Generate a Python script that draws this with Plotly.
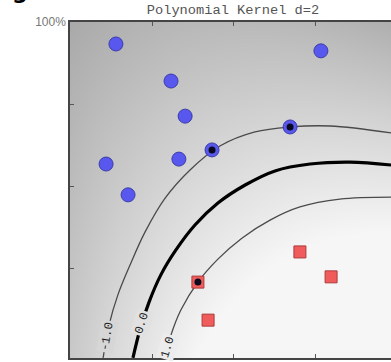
import numpy as np
import plotly.graph_objects as go

# ---- data (data units: 0..1 on both axes) ----
blue_x = [0.140, 0.765, 0.308, 0.351, 0.110, 0.332, 0.177]
blue_y = [0.933, 0.912, 0.820, 0.713, 0.567, 0.582, 0.473]
blue_sv_x = [0.433, 0.671, 0.110]
blue_sv_y = [0.610, 0.680, 0.030]

red_x = [0.701, 0.796, 0.421]
red_y = [0.299, 0.223, 0.091]
red_sv_x = [0.390]
red_sv_y = [0.207]

# traced decision-function level lines (-1, 0, +1)
lvl_m1_x = [0.101, 0.119, 0.146, 0.183, 0.229, 0.290, 0.366, 0.457, 0.564, 0.671, 0.793, 0.979]
lvl_m1_y = [-0.024, 0.076, 0.168, 0.259, 0.360, 0.463, 0.549, 0.622, 0.665, 0.680, 0.683, 0.662]
lvl_0_x = [0.192, 0.213, 0.241, 0.277, 0.323, 0.381, 0.451, 0.534, 0.625, 0.732, 0.854, 0.979]
lvl_0_y = [-0.024, 0.061, 0.146, 0.229, 0.305, 0.381, 0.448, 0.503, 0.546, 0.567, 0.573, 0.564]
lvl_p1_x = [0.290, 0.308, 0.338, 0.390, 0.451, 0.524, 0.610, 0.701, 0.823, 0.979]
lvl_p1_y = [-0.024, 0.046, 0.122, 0.207, 0.277, 0.341, 0.396, 0.436, 0.460, 0.466]

level_labels = ["-1.0", "0.0", "1.0"]
label_x = [0.113, 0.220, 0.299]
label_y = [0.040, 0.082, 0.009]
label_angle = [-80, -73, -74]

x_ticks = [0.25, 0.5, 0.75]
y_ticks = [0.25, 0.5, 0.75, 1.0]
y_ticktext = ["", "", "", "100%"]

# ---- smooth degree-2 polynomial surface (background shading) fitted to the level lines ----
px = np.array(lvl_m1_x + lvl_0_x + lvl_p1_x)
py = np.array(lvl_m1_y + lvl_0_y + lvl_p1_y)
pz = np.array([-1.0] * len(lvl_m1_x) + [0.0] * len(lvl_0_x) + [1.0] * len(lvl_p1_x))
A = np.column_stack([px**2, py**2, px * py, px, py, np.ones_like(px)])
coef, *_ = np.linalg.lstsq(A, pz, rcond=None)


def surf(x, y):
    return (coef[0] * x**2 + coef[1] * y**2 + coef[2] * x * y
            + coef[3] * x + coef[4] * y + coef[5])


ZMIN, ZMAX = -6.0, 2.0
G_LO, G_HI = 160, 246


def gray_at(z):
    t = min(max((z - ZMIN) / (ZMAX - ZMIN), 0.0), 1.0)
    g = int(round(G_LO + t * (G_HI - G_LO)))
    return f"rgb({g},{g},{g})"


gx = np.linspace(0, 0.9787, 160)
gy = np.linspace(-0.0244, 1.0, 170)
GX, GY = np.meshgrid(gx, gy)
Z = surf(GX, GY)

fig = go.Figure()
fig.add_trace(go.Heatmap(x=gx, y=gy, z=Z, zmin=ZMIN, zmax=ZMAX, zsmooth="best",
                         colorscale=[[0, gray_at(ZMIN)], [1, gray_at(ZMAX)]],
                         showscale=False, hoverinfo="skip"))
for lx, ly, w, c in [(lvl_m1_x, lvl_m1_y, 1.3, "#4a4a4a"),
                     (lvl_p1_x, lvl_p1_y, 1.3, "#4a4a4a"),
                     (lvl_0_x, lvl_0_y, 3.2, "black")]:
    fig.add_trace(go.Scatter(x=lx, y=ly, mode="lines", hoverinfo="skip",
                             line=dict(color=c, width=w, shape="spline", smoothing=1.0)))

lab_font = dict(family="Liberation Mono", size=12, color="#222")
for t, lx, ly, a in zip(level_labels, label_x, label_y, label_angle):
    fig.add_annotation(x=lx, y=ly, text=t, textangle=a, showarrow=False, font=lab_font,
                       bgcolor=gray_at(float(surf(lx, ly))), borderpad=1)

fig.add_trace(go.Scatter(x=blue_x + blue_sv_x, y=blue_y + blue_sv_y, mode="markers",
                         marker=dict(symbol="circle", size=14, color="rgb(88,88,238)",
                                     line=dict(color="rgb(60,60,170)", width=1))))
fig.add_trace(go.Scatter(x=red_x + red_sv_x, y=red_y + red_sv_y, mode="markers",
                         marker=dict(symbol="square", size=12, color="rgb(240,92,92)",
                                     line=dict(color="rgb(170,60,60)", width=1))))
fig.add_trace(go.Scatter(x=blue_sv_x + red_sv_x, y=blue_sv_y + red_sv_y, mode="markers",
                         marker=dict(symbol="circle", size=7, color="rgb(10,10,30)")))

fig.add_annotation(text="<b>g</b>", xref="paper", yref="paper", x=-0.155, y=1.0,
                   yshift=16, xanchor="center", yanchor="bottom", showarrow=False,
                   font=dict(family="DejaVu Sans", size=22, color="black"))

axis_common = dict(showgrid=False, zeroline=False, ticks="inside", ticklen=4,
                   tickcolor="#555", linecolor="#444", linewidth=1.5, showline=True)
fig.update_xaxes(range=[0, 0.9787], tickvals=x_ticks, showticklabels=False, mirror="ticks",
                 **axis_common)
fig.update_yaxes(range=[-0.0244, 1.0], tickvals=y_ticks, ticktext=y_ticktext,
                 tickfont=dict(family="Liberation Sans", size=12, color="#777"), **axis_common)

fig.update_layout(
    width=391, height=362, margin=dict(l=70, r=0, t=22, b=4),
    paper_bgcolor="white", plot_bgcolor="white", showlegend=False,
    title=dict(text="Polynomial Kernel d=2", x=233 / 391, xanchor="center", y=1 - 9 / 362,
               yanchor="middle", font=dict(family="Liberation Mono", size=13.7, color="#555")),
)
fig.write_html("out.html", config={"displayModeBar": False},
               post_script="document.body.style.margin='0';")
